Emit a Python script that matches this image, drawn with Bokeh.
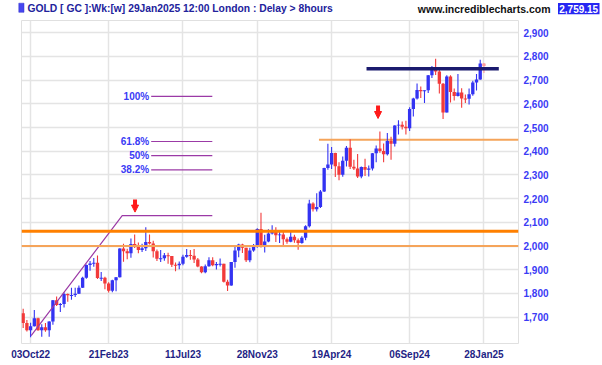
from bokeh.plotting import figure
from bokeh.layouts import column
from bokeh.models import (ColumnDataSource, FixedTicker, NumeralTickFormatter, Span,
                          Arrow, NormalHead, Range1d)
from bokeh.core.properties import value
from bokeh.embed import file_html
from bokeh.resources import INLINE

# ---------------- data (weekly candles, Sep 2022 .. Jan 2025) ----------------
week_open = [1716, 1675, 1644, 1661, 1695, 1644, 1657, 1645, 1681, 1771,
             1751, 1755, 1797, 1792, 1793, 1798, 1824, 1866, 1920, 1926,
             1929, 1865, 1866, 1842, 1811, 1856, 1868, 1989, 1978, 1969,
             2008, 2004, 1983, 1990, 2017, 2011, 1978, 1946, 1948, 1961,
             1958, 1921, 1919, 1925, 1955, 1962, 1959, 1943, 1914, 1889,
             1915, 1940, 1919, 1924, 1925, 1849, 1833, 1933, 1981, 2006,
             1993, 1940, 1981, 2002, 2072, 2004, 2019, 2053, 2063, 2045,
             2049, 2029, 2018, 2039, 2024, 2013, 2035, 2083, 2179, 2155,
             2165, 2230, 2329, 2344, 2392, 2337, 2301, 2360, 2415, 2334,
             2327, 2293, 2333, 2322, 2327, 2391, 2411, 2401, 2387, 2443,
             2431, 2508, 2512, 2503, 2497, 2578, 2622, 2658, 2653, 2657,
             2721, 2747, 2736, 2685, 2563, 2715, 2650, 2633, 2648, 2622,
             2621, 2640, 2690, 2703, 2770]
week_high = [1735, 1688, 1676, 1730, 1697, 1670, 1675, 1682, 1772, 1787,
             1760, 1804, 1800, 1824, 1824, 1833, 1870, 1922, 1937, 1949,
             1960, 1890, 1870, 1847, 1858, 1869, 1990, 2010, 1988, 2032,
             2048, 2015, 2009, 2079, 2048, 2022, 1985, 1983, 1970, 1972,
             1958, 1930, 1935, 1963, 1987, 1983, 1987, 1949, 1915, 1922,
             1953, 1953, 1933, 1947, 1925, 1858, 1933, 1997, 2009, 2010,
             1993, 1993, 2008, 2075, 2140, 2047, 2071, 2088, 2079, 2062,
             2062, 2036, 2065, 2047, 2032, 2041, 2088, 2195, 2185, 2223,
             2236, 2330, 2431, 2418, 2393, 2353, 2378, 2422, 2450, 2364,
             2388, 2335, 2368, 2340, 2392, 2424, 2483, 2432, 2477, 2461,
             2509, 2531, 2525, 2529, 2585, 2626, 2686, 2673, 2657, 2722,
             2759, 2790, 2750, 2688, 2721, 2721, 2665, 2726, 2666, 2639,
             2665, 2697, 2726, 2786, 2772]
week_low = [1654, 1639, 1615, 1660, 1642, 1617, 1638, 1617, 1668, 1747,
            1721, 1740, 1765, 1773, 1785, 1797, 1823, 1862, 1896, 1912,
            1861, 1852, 1818, 1804, 1805, 1809, 1867, 1934, 1944, 1950,
            1992, 1969, 1975, 1979, 2006, 1952, 1937, 1932, 1938, 1925,
            1911, 1893, 1902, 1919, 1950, 1942, 1928, 1910, 1885, 1885,
            1912, 1915, 1901, 1913, 1846, 1810, 1832, 1908, 1953, 1970,
            1932, 1931, 1976, 1993, 1994, 1973, 2016, 2048, 2017, 2013,
            2002, 2010, 2016, 2014, 1984, 2010, 2024, 2078, 2146, 2146,
            2160, 2228, 2322, 2325, 2291, 2277, 2292, 2335, 2325, 2321,
            2287, 2286, 2295, 2293, 2319, 2353, 2393, 2353, 2382, 2364,
            2420, 2470, 2492, 2471, 2485, 2546, 2618, 2625, 2603, 2646,
            2709, 2722, 2643, 2536, 2563, 2605, 2614, 2631, 2583, 2603,
            2597, 2634, 2656, 2701, 2730]
week_close = [1675, 1644, 1661, 1695, 1644, 1657, 1645, 1681, 1771, 1751,
              1755, 1797, 1792, 1793, 1798, 1824, 1866, 1920, 1926, 1929,
              1865, 1866, 1842, 1811, 1856, 1868, 1989, 1978, 1969, 2008,
              2004, 1983, 1990, 2017, 2011, 1978, 1946, 1948, 1961, 1958,
              1921, 1919, 1925, 1955, 1962, 1959, 1943, 1914, 1889, 1915,
              1940, 1919, 1924, 1925, 1849, 1833, 1933, 1981, 2006, 1993,
              1940, 1981, 2002, 2072, 2004, 2019, 2053, 2063, 2045, 2049,
              2029, 2018, 2039, 2024, 2013, 2035, 2083, 2179, 2155, 2165,
              2230, 2329, 2344, 2392, 2337, 2301, 2360, 2415, 2334, 2327,
              2293, 2333, 2322, 2327, 2391, 2411, 2401, 2387, 2443, 2431,
              2508, 2512, 2503, 2497, 2578, 2622, 2658, 2653, 2657, 2721,
              2747, 2736, 2685, 2563, 2715, 2650, 2633, 2648, 2622, 2621,
              2640, 2690, 2703, 2770, 2759]

x_tick_index = [2, 23, 43, 63, 83, 104, 124]
x_tick_labels = ["03Oct22", "21Feb23", "11Jul23", "28Nov23", "19Apr24", "06Sep24", "28Jan25"]
y_ticks = [1700, 1800, 1900, 2000, 2100, 2200, 2300, 2400, 2500, 2600, 2700, 2800, 2900]

fib_labels = ["100%", "61.8%", "50%", "38.2%"]
fib_levels = [2631, 2441, 2381, 2321]
fib_start, fib_end, fib_label_x = 34.45, 50.9, 33.9

trend_x = [2.15, 26.65, 50.9]
trend_y = [1622, 2128, 2128]

orange_levels = [2062, 2000]
upper_orange_level, upper_orange_start = 2448, 79.6
navy_level, navy_start, navy_end = 2748, 92.4, 128.0

arrow_x = [30.1, 95.5]
arrow_top = [2196, 2593]
arrow_tip = [2143, 2538]

title_text = "GOLD [ GC ]:Wk:[w]  29Jan2025 12:00 London : Delay > 8hours"
site_text = "www.incrediblecharts.com"
last_price_text = "2,759.15"

FONT = "Liberation Sans"
UP, DOWN, LAST = "#3333f2", "#f23a3a", "#ff9a9a"

# ---------------- header bar ----------------
h = figure(width=602, height=20, x_range=Range1d(0, 602), y_range=Range1d(20, 0),
           output_backend="svg", toolbar_location=None, title=None,
           x_axis_location=None, y_axis_location=None,
           min_border_left=0, min_border_right=0, min_border_top=0, min_border_bottom=0)
h.frame_align = False
h.outline_line_color = None
h.xgrid.visible = False
h.ygrid.visible = False
h.quad(left=[18.3], right=[23.5], top=[2.7], bottom=[11.8], fill_color="#4646f0",
       line_color="#3030c8", line_width=0.5)
h.text(x=[27], y=[8], text=[title_text], text_font=value(FONT), text_font_style="bold",
       text_font_size="10.3px", text_color="#22229c", text_baseline="middle")
h.text(x=[550], y=[8], text=[site_text], text_font=value(FONT), text_font_style="bold",
       text_font_size="10.5px", text_color="#111111", text_baseline="middle",
       text_align="right")
h.quad(left=[557.5], right=[599], top=[2.5], bottom=[13.8], fill_color="#2626f2",
       line_color=None)
h.text(x=[578.2], y=[8.3], text=[last_price_text], text_font=value(FONT),
       text_font_style="bold", text_font_size="10px", text_color="white",
       text_baseline="middle", text_align="center")

# ---------------- main chart ----------------
n = len(week_open)
idx = list(range(n))
colors = [UP if c >= o else DOWN for o, c in zip(week_open, week_close)]
colors[-1] = LAST
body_top = [max(o, c) for o, c in zip(week_open, week_close)]
body_bot = [min(o, c) for o, c in zip(week_open, week_close)]
body_bot = [b if t - b >= 4 else t - 4 for t, b in zip(body_top, body_bot)]

src = ColumnDataSource(dict(x=idx, high=week_high, low=week_low, top=body_top,
                            bottom=body_bot, color=colors))

p = figure(width=602, height=345, x_range=Range1d(-0.45, 133.3),
           y_range=Range1d(1588.6, 2951.5), output_backend="svg",
           toolbar_location=None, y_axis_location="right", title=None,
           min_border_left=21, min_border_right=84, min_border_top=0,
           min_border_bottom=22)
p.frame_align = False
p.background_fill_color = "white"
p.border_fill_color = "white"
p.outline_line_color = "#e0e0e0"
p.outline_line_width = 1

p.xgrid.ticker = FixedTicker(ticks=x_tick_index)
p.ygrid.ticker = FixedTicker(ticks=y_ticks)
for g in (p.xgrid, p.ygrid):
    g.grid_line_color = "#e4e4e4"
    g.grid_line_width = 1.5

xa = p.xaxis[0]
xa.ticker = FixedTicker(ticks=x_tick_index)
xa.major_label_overrides = {i: l for i, l in zip(x_tick_index, x_tick_labels)}
xa.axis_line_color = None
xa.major_tick_line_color = None
xa.minor_tick_line_color = None
xa.major_tick_out = 0
xa.major_label_standoff = 5
xa.major_label_text_font = FONT
xa.major_label_text_font_style = "bold"
xa.major_label_text_font_size = "10px"
xa.major_label_text_color = "#1f1f85"

ya = p.yaxis[0]
ya.ticker = FixedTicker(ticks=y_ticks)
ya.formatter = NumeralTickFormatter(format="0,0")
ya.axis_line_color = None
ya.major_tick_line_color = None
ya.minor_tick_line_color = None
ya.major_tick_out = 0
ya.major_label_standoff = 5
ya.major_label_text_font = FONT
ya.major_label_text_font_style = "bold"
ya.major_label_text_font_size = "10px"
ya.major_label_text_color = "#3a3af5"

p.add_layout(Span(location=orange_levels[0], dimension="width", line_color="#ff8000", line_width=3))
p.add_layout(Span(location=orange_levels[1], dimension="width", line_color="#f5a45a", line_width=2))
p.segment(x0=[upper_orange_start], y0=[upper_orange_level], x1=[p.x_range.end],
          y1=[upper_orange_level], line_color="#f5a45a", line_width=2)

p.segment(x0="x", y0="low", x1="x", y1="high", source=src, line_color="color", line_width=1.1)
p.vbar(x="x", width=0.9, top="top", bottom="bottom", source=src,
       fill_color="color", line_color=None)

p.segment(x0=[navy_start], y0=[navy_level], x1=[navy_end], y1=[navy_level],
          line_color="#1b1b6e", line_width=3.5)

p.line(trend_x, trend_y, line_color="#9b3aa6", line_width=1.2)
p.segment(x0=[fib_start] * 4, y0=fib_levels, x1=[fib_end] * 4, y1=fib_levels,
          line_color="#9b3aa6", line_width=1.2)
p.text(x=[fib_label_x] * 4, y=fib_levels, text=fib_labels, text_align="right",
       text_baseline="middle", text_font=value(FONT), text_font_style="bold",
       text_font_size="10px", text_color="#3a3af5")

asrc = ColumnDataSource(dict(x=arrow_x, top=arrow_top, tip=arrow_tip))
p.add_layout(Arrow(end=NormalHead(size=7, fill_color="#ff1a1a", line_color="#ff1a1a", line_width=1),
                   x_start="x", y_start="top", x_end="x", y_end="tip", source=asrc,
                   line_color="#ff1a1a", line_width=4))

layout = column(h, p, spacing=0)
open("out.html", "w").write(file_html(layout, INLINE))
